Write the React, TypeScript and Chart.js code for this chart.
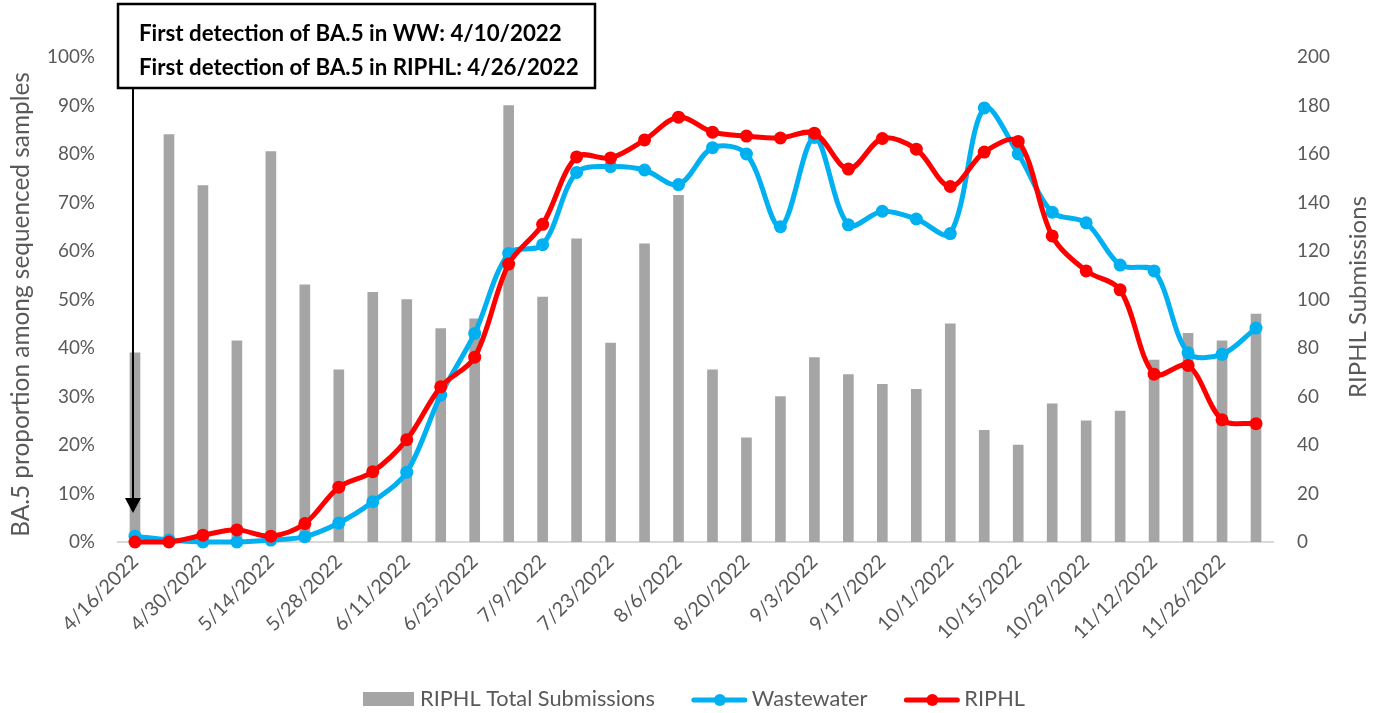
import React, { useEffect, useRef } from 'react';
import { Chart, registerables } from 'chart.js';

Chart.register(...registerables);

const categories = [
  '4/16/2022', '4/23/2022', '4/30/2022', '5/7/2022', '5/14/2022', '5/21/2022', '5/28/2022',
  '6/4/2022', '6/11/2022', '6/18/2022', '6/25/2022', '7/2/2022', '7/9/2022', '7/16/2022',
  '7/23/2022', '7/30/2022', '8/6/2022', '8/13/2022', '8/20/2022', '8/27/2022', '9/3/2022',
  '9/10/2022', '9/17/2022', '9/24/2022', '10/1/2022', '10/8/2022', '10/15/2022', '10/22/2022',
  '10/29/2022', '11/5/2022', '11/12/2022', '11/19/2022', '11/26/2022', '12/3/2022',
];

const shownTickLabels = [
  '4/16/2022', '4/30/2022', '5/14/2022', '5/28/2022', '6/11/2022', '6/25/2022', '7/9/2022',
  '7/23/2022', '8/6/2022', '8/20/2022', '9/3/2022', '9/17/2022', '10/1/2022', '10/15/2022',
  '10/29/2022', '11/12/2022', '11/26/2022',
];

const totalSubmissions = [
  78, 168, 147, 83, 161, 106, 71, 103, 100, 88, 92, 180, 101, 125, 82, 123, 143,
  71, 43, 60, 76, 69, 65, 63, 90, 46, 40, 57, 50, 54, 75, 86, 83, 94,
];

const wastewater = [
  1.2, 0.4, 0, 0, 0.4, 1.1, 3.9, 8.3, 14.4, 30.3, 43, 59.5, 61.3, 76.2, 77.4, 76.7, 73.7,
  81.3, 80, 65, 83.4, 65.4, 68.2, 66.6, 63.6, 89.5, 80, 68, 65.8, 57.1, 55.9, 39, 38.7, 44.1,
];

const riphl = [
  0, 0, 1.4, 2.5, 1.2, 3.8, 11.3, 14.5, 21.1, 32, 38.1, 57.3, 65.5, 79.4, 79.2, 82.9, 87.6,
  84.5, 83.7, 83.3, 84.3, 76.9, 83.2, 81, 73.3, 80.4, 82.6, 63.1, 55.9, 52, 34.6, 36.4, 25.2, 24.4,
];

const seriesNames = ['RIPHL Total Submissions', 'Wastewater', 'RIPHL'];
const leftAxisTitle = 'BA.5 proportion among sequenced samples';
const rightAxisTitle = 'RIPHL Submissions';
const annotationLines = [
  'First detection of BA.5 in WW: 4/10/2022',
  'First detection of BA.5 in RIPHL: 4/26/2022',
];

const FONT = 'Lato, "Open Sans", sans-serif';
const TEXT = '#595959';
const BAR_COLOR = '#a5a5a5';
const BLUE = '#00b0f0';
const RED = '#ff0000';

function fitSize(text: string, weight: string, target: number): number {
  const c = document.createElement('canvas').getContext('2d')!;
  c.font = `${weight} 100px ${FONT}`;
  const w = c.measureText(text).width;
  return (100 * target) / w;
}

export default function App() {
  const canvasRef = useRef<HTMLCanvasElement | null>(null);

  useEffect(() => {
    document.body.style.margin = '0';
    const canvas = canvasRef.current;
    if (!canvas) return;

    const tickSize = fitSize('100%', 'normal', 48);
    const xTickSize = fitSize('4/16/2022', 'normal', 98);
    const legendSize = fitSize(seriesNames[0], 'normal', 235);
    const leftTitleSize = fitSize(leftAxisTitle, 'normal', 465);
    const rightTitleSize = fitSize(rightAxisTitle, 'normal', 202);
    const annoSize = fitSize(annotationLines[1], 'bold', 440);

    const overlay = {
      id: 'overlay',
      afterDraw(chart: any) {
        const ctx = chart.ctx as CanvasRenderingContext2D;
        const area = chart.chartArea;
        ctx.save();

        // axis titles
        ctx.fillStyle = TEXT;
        ctx.textAlign = 'center';
        ctx.textBaseline = 'middle';
        ctx.font = `normal ${leftTitleSize}px ${FONT}`;
        ctx.save();
        ctx.translate(21, (area.top + area.bottom) / 2 + 5);
        ctx.rotate(-Math.PI / 2);
        ctx.fillText(leftAxisTitle, 0, 0);
        ctx.restore();
        ctx.font = `normal ${rightTitleSize}px ${FONT}`;
        ctx.save();
        ctx.translate(1358, 297);
        ctx.rotate(-Math.PI / 2);
        ctx.fillText(rightAxisTitle, 0, 0);
        ctx.restore();

        // legend
        ctx.font = `normal ${legendSize}px ${FONT}`;
        ctx.textAlign = 'left';
        ctx.textBaseline = 'alphabetic';
        let x = 363;
        const cy = 699;
        const colors = [BAR_COLOR, BLUE, RED];
        seriesNames.forEach((name, i) => {
          if (i === 0) {
            ctx.fillStyle = BAR_COLOR;
            ctx.fillRect(x, cy - 7, 51, 14);
            x += 51 + 6;
          } else {
            ctx.strokeStyle = colors[i];
            ctx.lineWidth = 5;
            ctx.lineCap = 'round';
            ctx.beginPath();
            ctx.moveTo(x + 2, cy + 1);
            ctx.lineTo(x + 53, cy + 1);
            ctx.stroke();
            ctx.fillStyle = colors[i];
            ctx.beginPath();
            ctx.arc(x + 28, cy + 1, 6, 0, Math.PI * 2);
            ctx.fill();
            x += 55 + 5;
          }
          ctx.fillStyle = TEXT;
          ctx.fillText(name, x, 706);
          x += ctx.measureText(name).width + 37;
        });

        // annotation box
        ctx.fillStyle = '#ffffff';
        ctx.fillRect(118, 4, 477, 84);
        ctx.strokeStyle = '#000000';
        ctx.lineWidth = 2.5;
        ctx.lineCap = 'butt';
        ctx.strokeRect(118, 4, 477, 84);
        ctx.fillStyle = '#000000';
        ctx.font = `bold ${annoSize}px ${FONT}`;
        ctx.fillText(annotationLines[0], 139, 41);
        ctx.fillText(annotationLines[1], 139, 75);

        // arrow
        const ax = chart.scales.x.getPixelForValue(0) - 2;
        ctx.lineWidth = 2;
        ctx.beginPath();
        ctx.moveTo(ax, 88);
        ctx.lineTo(ax, 500);
        ctx.stroke();
        ctx.beginPath();
        ctx.moveTo(ax - 8, 498);
        ctx.lineTo(ax + 8, 498);
        ctx.lineTo(ax, 513);
        ctx.closePath();
        ctx.fill();

        ctx.restore();
      },
    };

    const chart = new Chart(canvas, {
      type: 'bar',
      data: {
        labels: categories,
        datasets: [
          {
            type: 'bar',
            label: seriesNames[0],
            data: totalSubmissions,
            backgroundColor: BAR_COLOR,
            yAxisID: 'y1',
            barThickness: 10,
            order: 3,
          },
          {
            type: 'line',
            label: seriesNames[1],
            data: wastewater,
            borderColor: BLUE,
            backgroundColor: BLUE,
            pointBackgroundColor: BLUE,
            pointBorderWidth: 0,
            pointRadius: 6.5,
            borderWidth: 5,
            tension: 0.33,
            yAxisID: 'y',
            clip: false,
            order: 2,
          },
          {
            type: 'line',
            label: seriesNames[2],
            data: riphl,
            borderColor: RED,
            backgroundColor: RED,
            pointBackgroundColor: RED,
            pointBorderWidth: 0,
            pointRadius: 6.5,
            borderWidth: 5,
            tension: 0.33,
            yAxisID: 'y',
            clip: false,
            order: 1,
          },
        ] as any,
      },
      options: {
        responsive: false,
        animation: false,
        layout: { padding: { top: 57, left: 0, right: 0, bottom: 0 } },
        plugins: {
          legend: { display: false },
          tooltip: { enabled: false },
        },
        scales: {
          x: {
            grid: { display: false, drawTicks: false },
            border: { display: true, color: '#d9d9d9', width: 2 },
            ticks: {
              autoSkip: false,
              maxRotation: 45,
              minRotation: 45,
              padding: 8,
              color: TEXT,
              font: { family: FONT, size: xTickSize },
              callback: function (this: any, _v: any, i: number) {
                const lbl = categories[i];
                return shownTickLabels.includes(lbl) ? lbl : '';
              },
            },
            afterFit: (s: any) => {
              s.height = 171;
            },
          },
          y: {
            position: 'left',
            min: 0,
            max: 100,
            grid: { display: false, drawTicks: false },
            border: { display: false },
            ticks: {
              stepSize: 10,
              padding: 23,
              color: TEXT,
              font: { family: FONT, size: tickSize },
              callback: (v: any) => `${v}%`,
            },
            afterFit: (s: any) => {
              s.width = 118;
            },
          },
          y1: {
            position: 'right',
            min: 0,
            max: 200,
            grid: { display: false, drawTicks: false },
            border: { display: false },
            ticks: {
              stepSize: 20,
              padding: 24,
              color: TEXT,
              font: { family: FONT, size: tickSize },
            },
            afterFit: (s: any) => {
              s.width = 101;
            },
          },
        },
      } as any,
      plugins: [overlay],
    });

    return () => chart.destroy();
  }, []);

  return (
    <div style={{ position: 'absolute', left: 0, top: 0, width: 1374, height: 713, background: '#fff' }}>
      <canvas ref={canvasRef} width={1374} height={713} />
    </div>
  );
}
